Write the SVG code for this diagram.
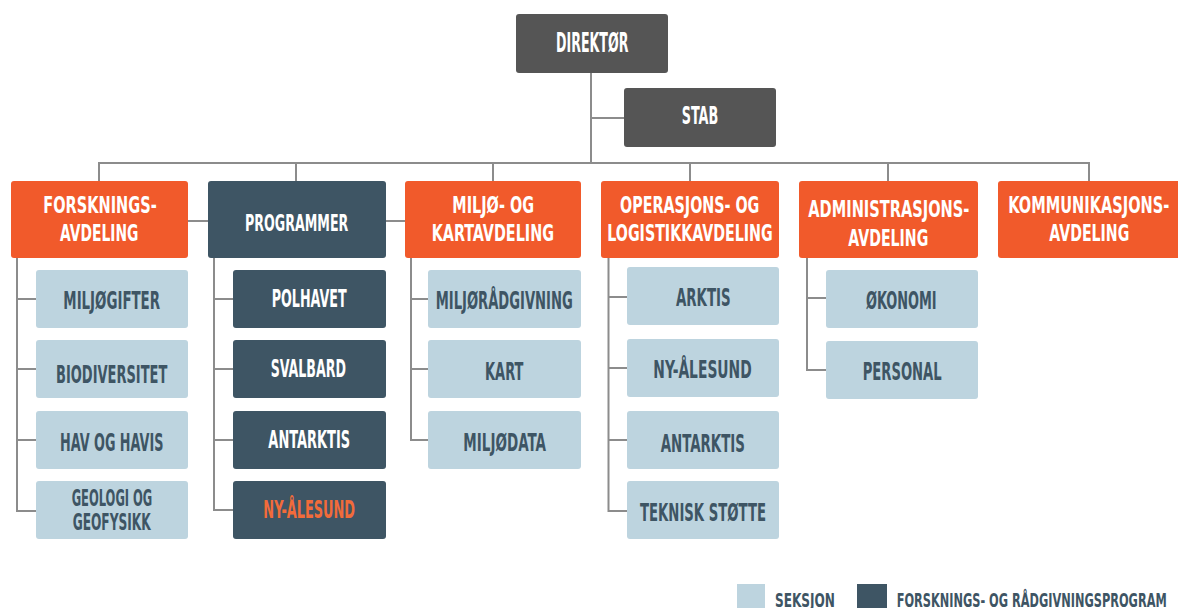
<svg xmlns="http://www.w3.org/2000/svg" width="1178" height="608" viewBox="0 0 1178 608">
<style>
text{font-family:"DejaVu Sans Condensed","DejaVu Sans","Liberation Sans",sans-serif;font-weight:bold;text-anchor:middle;}
.dir{fill:#555555;}
.dep{fill:#f15a2b;}
.prg{fill:#3e5564;}
.sek{fill:#bdd4df;}
.tw{fill:#ffffff;font-size:23px;}
.ts{fill:#3e5564;font-size:24px;}
.tp{fill:#ffffff;font-size:24px;}
.to{fill:#f26b3a;font-size:24px;}
.conn{fill:none;stroke:#8c8c8c;stroke-width:2;}
.lg{fill:#3e5564;font-size:20px;text-anchor:start;}
</style>
<g id="connectors" class="conn">
<path d="M591 73 V163"/>
<path d="M591 118 H624"/>
<path d="M99 181 V163 H1089 V181"/>
<path d="M296 163 V181"/>
<path d="M493 163 V181"/>
<path d="M690 163 V181"/>
<path d="M888 163 V181"/>
<path d="M188 221 H208"/>
<path d="M386 221 H405"/>
<path d="M17 258 V511 H36 M17 299 H36 M17 369 H36 M17 440 H36"/>
<path d="M214 258 V510 H233 M214 299 H233 M214 369 H233 M214 440 H233"/>
<path d="M411 258 V440 H428 M411 299 H428 M411 369 H428"/>
<path d="M608.5 258 V511 H627 M608.5 297 H627 M608.5 368 H627 M608.5 440 H627"/>
<path d="M807 258 V370 H826 M807 298 H826"/>
</g>
<g id="direktor"><rect class="dir" x="516" y="14" width="152" height="59" rx="3"/><text class="tw" style="font-size:26px" x="592.2" y="51.7" textLength="72.3" lengthAdjust="spacingAndGlyphs">DIREKTØR</text></g>
<g id="stab"><rect class="dir" x="624" y="88" width="152" height="59" rx="3"/><text class="tw" style="font-size:25px" x="700" y="124" textLength="36.6" lengthAdjust="spacingAndGlyphs">STAB</text></g>

<g id="forskningsavdeling"><rect class="dep" x="11" y="181" width="177" height="77" rx="3"/>
<text class="tw" x="100" y="213.3" textLength="113.4" lengthAdjust="spacingAndGlyphs">FORSKNINGS-</text>
<text class="tw" x="99.2" y="241" textLength="78.3" lengthAdjust="spacingAndGlyphs">AVDELING</text></g>
<g id="programmer"><rect class="prg" x="208" y="181" width="178" height="77" rx="3"/>
<text class="tw" x="296.7" y="231" textLength="103.3" lengthAdjust="spacingAndGlyphs">PROGRAMMER</text></g>
<g id="miljoavdeling"><rect class="dep" x="405" y="181" width="176" height="77" rx="3"/>
<text class="tw" x="493.2" y="213.3" textLength="81.7" lengthAdjust="spacingAndGlyphs">MILJØ- OG</text>
<text class="tw" x="492.8" y="241" textLength="122.3" lengthAdjust="spacingAndGlyphs">KARTAVDELING</text></g>
<g id="operasjonsavdeling"><rect class="dep" x="601" y="181" width="178" height="77" rx="3"/>
<text class="tw" x="689.7" y="213.3" textLength="139.3" lengthAdjust="spacingAndGlyphs">OPERASJONS- OG</text>
<text class="tw" x="690" y="241" textLength="165.4" lengthAdjust="spacingAndGlyphs">LOGISTIKKAVDELING</text></g>
<g id="administrasjonsavdeling"><rect class="dep" x="799" y="181" width="179" height="77" rx="3"/>
<text class="tw" x="888.8" y="217.3" textLength="161" lengthAdjust="spacingAndGlyphs">ADMINISTRASJONS-</text>
<text class="tw" x="888.3" y="246" textLength="80" lengthAdjust="spacingAndGlyphs">AVDELING</text></g>
<g id="kommunikasjonsavdeling"><rect class="dep" x="998" y="181" width="184" height="77" rx="3"/>
<text class="tw" x="1088.8" y="213.3" textLength="161" lengthAdjust="spacingAndGlyphs">KOMMUNIKASJONS-</text>
<text class="tw" x="1089.3" y="241" textLength="80" lengthAdjust="spacingAndGlyphs">AVDELING</text></g>

<g id="miljogifter"><rect class="sek" x="36" y="270" width="152" height="58" rx="3"/><text class="ts" x="111.7" y="309.3" textLength="96.7" lengthAdjust="spacingAndGlyphs">MILJØGIFTER</text></g>
<g id="biodiversitet"><rect class="sek" x="36" y="340" width="152" height="58" rx="3"/><text class="ts" x="111.7" y="382.7" textLength="111.3" lengthAdjust="spacingAndGlyphs">BIODIVERSITET</text></g>
<g id="havoghavis"><rect class="sek" x="36" y="411" width="152" height="58" rx="3"/><text class="ts" x="111.7" y="450.7" textLength="103.3" lengthAdjust="spacingAndGlyphs">HAV OG HAVIS</text></g>
<g id="geologi"><rect class="sek" x="36" y="481" width="152" height="58" rx="3"/>
<text class="ts" style="font-size:23px" x="112" y="506" textLength="80.6" lengthAdjust="spacingAndGlyphs">GEOLOGI OG</text>
<text class="ts" style="font-size:23px" x="111.7" y="530" textLength="78" lengthAdjust="spacingAndGlyphs">GEOFYSIKK</text></g>

<g id="polhavet"><rect class="prg" x="233" y="270" width="153" height="58" rx="3"/><text class="tp" x="309.2" y="306.7" textLength="75" lengthAdjust="spacingAndGlyphs">POLHAVET</text></g>
<g id="svalbard"><rect class="prg" x="233" y="340" width="153" height="58" rx="3"/><text class="tp" x="308.3" y="377.3" textLength="75.3" lengthAdjust="spacingAndGlyphs">SVALBARD</text></g>
<g id="antarktis-prog"><rect class="prg" x="233" y="411" width="153" height="58" rx="3"/><text class="tp" x="309.2" y="447.7" textLength="81.7" lengthAdjust="spacingAndGlyphs">ANTARKTIS</text></g>
<g id="nyalesund-prog"><rect class="prg" x="233" y="481" width="153" height="58" rx="3"/><text class="to" x="309.2" y="517.7" textLength="91.7" lengthAdjust="spacingAndGlyphs">NY-ÅLESUND</text></g>

<g id="miljoradgivning"><rect class="sek" x="428" y="270" width="153" height="58" rx="3"/><text class="ts" x="504.2" y="309.3" textLength="137" lengthAdjust="spacingAndGlyphs">MILJØRÅDGIVNING</text></g>
<g id="kart"><rect class="sek" x="428" y="340" width="153" height="58" rx="3"/><text class="ts" x="504.2" y="380" textLength="38.3" lengthAdjust="spacingAndGlyphs">KART</text></g>
<g id="miljodata"><rect class="sek" x="428" y="411" width="153" height="58" rx="3"/><text class="ts" x="504.7" y="451" textLength="82.7" lengthAdjust="spacingAndGlyphs">MILJØDATA</text></g>

<g id="arktis"><rect class="sek" x="627" y="267" width="152" height="58" rx="3"/><text class="ts" x="703.3" y="306" textLength="54.7" lengthAdjust="spacingAndGlyphs">ARKTIS</text></g>
<g id="nyalesund-op"><rect class="sek" x="627" y="339" width="152" height="58" rx="3"/><text class="ts" x="702.5" y="378.3" textLength="98.4" lengthAdjust="spacingAndGlyphs">NY-ÅLESUND</text></g>
<g id="antarktis-op"><rect class="sek" x="627" y="411" width="152" height="58" rx="3"/><text class="ts" x="702.8" y="451.7" textLength="84.3" lengthAdjust="spacingAndGlyphs">ANTARKTIS</text></g>
<g id="teknisk"><rect class="sek" x="627" y="481" width="152" height="58" rx="3"/><text class="ts" x="703" y="520.7" textLength="126" lengthAdjust="spacingAndGlyphs">TEKNISK STØTTE</text></g>

<g id="okonomi"><rect class="sek" x="826" y="270" width="152" height="58" rx="3"/><text class="ts" x="901.3" y="309" textLength="70.7" lengthAdjust="spacingAndGlyphs">ØKONOMI</text></g>
<g id="personal"><rect class="sek" x="826" y="341" width="152" height="58" rx="3"/><text class="ts" x="902.2" y="380" textLength="79" lengthAdjust="spacingAndGlyphs">PERSONAL</text></g>

<g id="legend">
<rect class="sek" x="737" y="584" width="28" height="26"/>
<text class="lg" x="775" y="606.7" textLength="60" lengthAdjust="spacingAndGlyphs">SEKSJON</text>
<rect class="prg" x="857" y="584" width="30" height="26"/>
<text class="lg" x="896.7" y="606.7" textLength="270" lengthAdjust="spacingAndGlyphs">FORSKNINGS- OG RÅDGIVNINGSPROGRAM</text>
</g>
</svg>
